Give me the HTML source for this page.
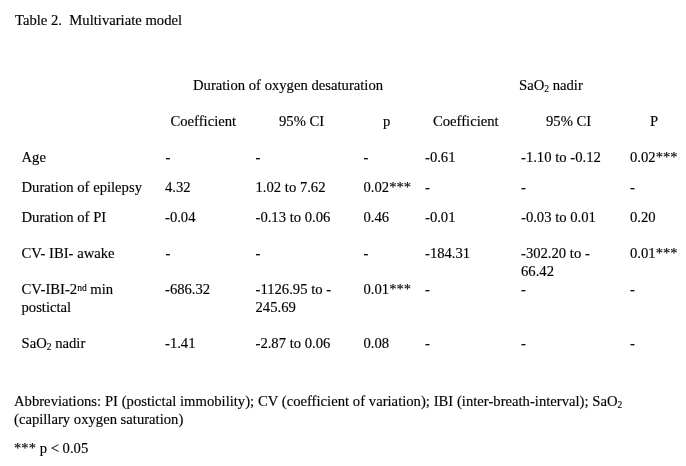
<!DOCTYPE html>
<html><head><meta charset="utf-8"><style>
html,body{margin:0;padding:0;background:#fff;}
body{width:686px;height:466px;position:relative;overflow:hidden;}
#w{position:absolute;left:0;top:0;width:686px;height:466px;will-change:transform;}
div{position:absolute;-webkit-font-smoothing:antialiased;white-space:pre;font-family:"Liberation Serif",serif;font-size:14.67px;line-height:1;color:#000;-webkit-text-stroke:0.15px #000;}
sub,sup{font-size:0.65em;line-height:0;position:relative;vertical-align:baseline;}
sub{top:0.22em;}
sup{top:-0.33em;}
</style></head><body>
<section id="w">
<div style="left:15.00px;top:12.71px">Table 2.&nbsp; Multivariate model</div>
<div style="left:193.00px;top:77.71px">Duration of oxygen desaturation</div>
<div style="left:519.00px;top:77.71px">SaO<sub>2</sub> nadir</div>
<div style="left:170.50px;top:113.71px">Coefficient</div>
<div style="left:279.00px;top:113.71px">95% CI</div>
<div style="left:383.00px;top:113.71px">p</div>
<div style="left:433.00px;top:113.71px">Coefficient</div>
<div style="left:546.00px;top:113.71px">95% CI</div>
<div style="left:650.00px;top:113.71px">P</div>
<div style="left:21.50px;top:149.71px">Age</div>
<div style="left:165.50px;top:149.71px">-</div>
<div style="left:255.50px;top:149.71px">-</div>
<div style="left:363.50px;top:149.71px">-</div>
<div style="left:425.00px;top:149.71px">-0.61</div>
<div style="left:521.00px;top:149.71px">-1.10 to -0.12</div>
<div style="left:630.00px;top:149.71px">0.02***</div>
<div style="left:21.50px;top:179.71px">Duration of epilepsy</div>
<div style="left:165.00px;top:179.71px">4.32</div>
<div style="left:255.50px;top:179.71px">1.02 to 7.62</div>
<div style="left:363.50px;top:179.71px">0.02***</div>
<div style="left:425.00px;top:179.71px">-</div>
<div style="left:521.00px;top:179.71px">-</div>
<div style="left:630.00px;top:179.71px">-</div>
<div style="left:21.50px;top:209.71px">Duration of PI</div>
<div style="left:165.00px;top:209.71px">-0.04</div>
<div style="left:255.50px;top:209.71px">-0.13 to 0.06</div>
<div style="left:363.50px;top:209.71px">0.46</div>
<div style="left:425.00px;top:209.71px">-0.01</div>
<div style="left:521.00px;top:209.71px">-0.03 to 0.01</div>
<div style="left:630.00px;top:209.71px">0.20</div>
<div style="left:21.50px;top:245.71px">CV- IBI- awake</div>
<div style="left:165.50px;top:245.71px">-</div>
<div style="left:255.50px;top:245.71px">-</div>
<div style="left:363.50px;top:245.71px">-</div>
<div style="left:425.00px;top:245.71px">-184.31</div>
<div style="left:521.00px;top:245.71px">-302.20 to -</div>
<div style="left:521.00px;top:263.71px">66.42</div>
<div style="left:630.00px;top:245.71px">0.01***</div>
<div style="left:21.50px;top:281.71px">CV-IBI-2<sup>nd</sup> min</div>
<div style="left:21.50px;top:299.71px">postictal</div>
<div style="left:165.00px;top:281.71px">-686.32</div>
<div style="left:255.50px;top:281.71px">-1126.95 to -</div>
<div style="left:255.50px;top:299.71px">245.69</div>
<div style="left:363.50px;top:281.71px">0.01***</div>
<div style="left:425.00px;top:281.71px">-</div>
<div style="left:521.00px;top:281.71px">-</div>
<div style="left:630.00px;top:281.71px">-</div>
<div style="left:21.50px;top:335.71px">SaO<sub>2</sub> nadir</div>
<div style="left:165.00px;top:335.71px">-1.41</div>
<div style="left:255.50px;top:335.71px">-2.87 to 0.06</div>
<div style="left:363.50px;top:335.71px">0.08</div>
<div style="left:425.00px;top:335.71px">-</div>
<div style="left:521.00px;top:335.71px">-</div>
<div style="left:630.00px;top:335.71px">-</div>
<div style="left:14.00px;top:393.71px"><span style="word-spacing:0.12px">Abbreviations: PI (postictal immobility); CV (coefficient of variation); IBI (inter-breath-interval); SaO<sub>2</sub></span></div>
<div style="left:14.00px;top:411.71px">(capillary oxygen saturation)</div>
<div style="left:14.00px;top:440.71px">*** p &lt; 0.05</div>
</section>
</body></html>
